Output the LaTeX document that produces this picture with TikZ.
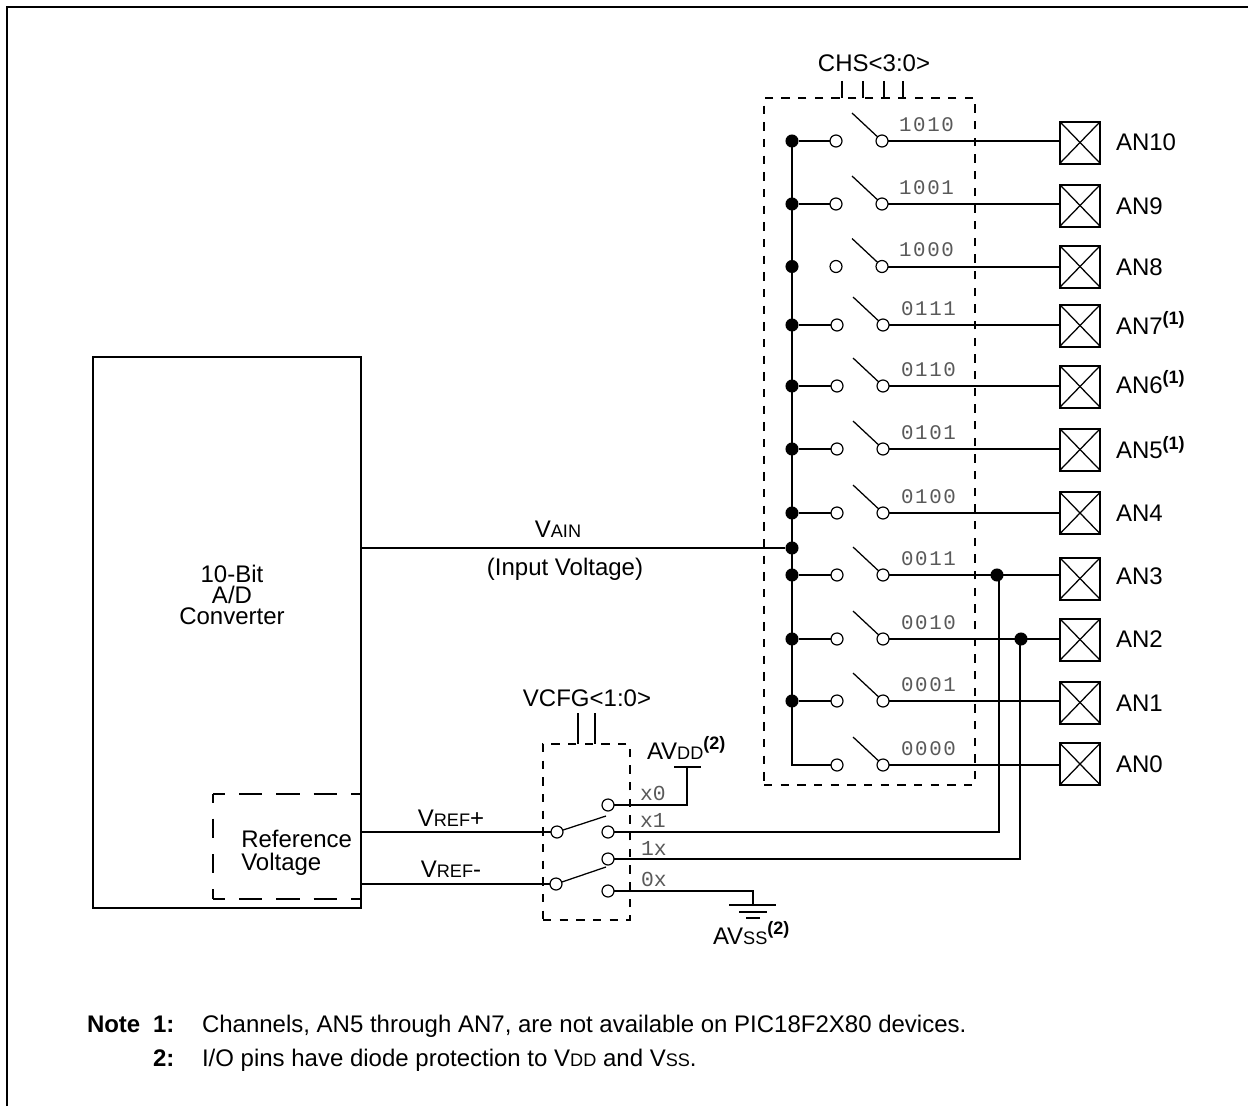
\documentclass[tikz,border=0pt]{standalone}
\usepackage{fontspec}
\setmainfont{Liberation Sans}
\newfontfamily\codefont[LetterSpace=8]{Liberation Mono}
\newfontfamily\codefontb{Liberation Mono}
\newcommand{\px}[1]{\fontsize{#1}{#1}\selectfont}
\newcommand{\supn}[1]{\raisebox{6.8pt}{\px{13.5pt}\bfseries #1}}
\newcommand{\smc}[1]{{\px{13.6pt}#1}}
\tikzset{
  wire/.style={line width=1.5pt,line cap=butt,line join=miter},
  thinw/.style={line width=0.95pt},
  contact/.style={circle,draw=black,fill=white,line width=0.9pt,minimum size=9pt,inner sep=0pt,outer sep=0pt},
  jdot/.style={circle,fill=black,minimum size=9.8pt,inner sep=0pt,outer sep=0pt},
  sdash/.style={line width=1.5pt,dash pattern=on 6.2pt off 6.3pt},
  ldash/.style={line width=1.5pt,dash pattern=on 17.5pt off 10.5pt,dash phase=8.5pt},
  ldashv/.style={line width=1.5pt,dash pattern=on 14.5pt off 12pt,dash phase=8pt},
  pin/.style={draw=black,line width=1.5pt,minimum width=30.5pt,minimum height=31.5pt,inner sep=0pt,outer sep=0pt},
  txt/.style={inner sep=0pt,outer sep=0pt,anchor=base west,font=\px{18pt}},
  ctxt/.style={inner sep=0pt,outer sep=0pt,anchor=base,font=\px{18pt}},
  code/.style={inner sep=0pt,outer sep=0pt,anchor=base west,text=black!65,font=\codefont\px{15.6pt}},
  codeb/.style={inner sep=0pt,outer sep=0pt,anchor=base west,text=black!65,font=\codefontb\px{16pt}},
}
\begin{document}
\begin{tikzpicture}[x=0.75pt,y=-0.75pt]
\useasboundingbox (0,0) rectangle (1248,1106);
\draw[line width=1.5pt] (7,1106) -- (7,7) -- (1248,7);

% ADC
\node[draw=black,line width=1.5pt,minimum width=201pt,minimum height=413.25pt,inner sep=0pt,outer sep=0pt] (adc) at (227,632.5) {};
\node[inner sep=0pt,align=center,font=\fontsize{18pt}{15.75pt}\selectfont] (adct) at (232,595) {10-Bit\\A/D\\Converter};
\node[minimum width=111pt,minimum height=78.75pt,inner sep=0pt,outer sep=0pt] (rv) at (287,846.5) {};
\draw[ldash] (rv.north west) -- (rv.north east);
\draw[ldash] (rv.south west) -- (rv.south east);
\draw[ldashv] (rv.north west) -- (rv.south west);
\node[inner sep=0pt,align=left,font=\fontsize{18pt}{17pt}\selectfont,anchor=west] (rvt) at (241,853) {Reference\\Voltage};

% CHS dashed box
\node[draw=black,sdash,minimum width=158.25pt,minimum height=515.25pt,inner sep=0pt,outer sep=0pt] (chs) at (869.5,441.5) {};
\node[ctxt] (chst) at (874,72) {CHS<3:0>};
\foreach \x [count=\k] in {842,863,884,903} {
  \coordinate (chsa\k) at (\x,81);
  \draw[wire] (chsa\k) -- (chsa\k |- chs.north);
}

% channel rows
\foreach \n/\y/\by/\ly/\cod/\lab/\cx in {
  10/141/142.5/142/1010/{AN10}/0,
  9/204/205.5/206/1001/{AN9}/0,
  8/266.5/266.5/267/1000/{AN8}/0,
  7/325/325.5/325.5/0111/{AN7\supn{(1)}}/1,
  6/386/386.5/384.5/0110/{AN6\supn{(1)}}/1,
  5/449/449.5/450/0101/{AN5\supn{(1)}}/1,
  4/513/513/513/0100/{AN4}/1,
  3/575/578.5/575.5/0011/{AN3}/1,
  2/639/639.5/639/0010/{AN2}/1,
  1/701/702.5/703/0001/{AN1}/1,
  0/765/764/764/0000/{AN0}/1} {
  \node[contact] (l\n) at (836+\cx,\y) {};
  \node[contact] (r\n) at (882+\cx,\y) {};
  \node[pin] (p\n) at (1080,\by) {};
  \draw[thinw] (p\n.north west) -- (p\n.south east);
  \draw[thinw] (p\n.south west) -- (p\n.north east);
  \draw[wire] (r\n) -- (r\n -| p\n.west);
  \coordinate (a\n) at (852+\cx,\y-28);
  \draw[thinw] (a\n) -- (r\n);
  \node[code] (c\n) at (899+2*\cx,\y-10) {\cod};
  \node[txt] (n\n) at (1116,\ly+8.5) {\lab};
}
% bus
\foreach \n in {10,9,7,6,5,4,3,2,1} {
  \node[jdot] (j\n) at (792,0 |- l\n) {};
  \draw[wire] (j\n) -- (l\n);
}
\node[jdot] (j8) at (792,0 |- l8) {};
\coordinate (jc) at (792,0 |- l0);
\draw[wire] (j10.center) -- (jc) -- (l0);

% VAIN
\node[jdot] (jv) at (792,548) {};
\draw[wire] (adc.east |- jv) -- (jv);
\node[ctxt] (vain) at (558,537) {V\smc{AIN}};
\node[ctxt] (inp) at (565,575) {(Input Voltage)};

% VCFG box
\node[draw=black,sdash,minimum width=65.25pt,minimum height=132pt,inner sep=0pt,outer sep=0pt] (vc) at (586.5,832) {};
\node[ctxt] (vct) at (587,706) {VCFG<1:0>};
\foreach \x [count=\k] in {578,595} {
  \coordinate (vca\k) at (\x,713);
  \draw[wire] (vca\k) -- (vca\k |- vc.north);
}
\node[contact] (lp) at (557,832) {};
\node[contact] (lm) at (556,884) {};
\node[contact] (rx0) at (608,805) {};
\node[contact] (rx1) at (608,832) {};
\node[contact] (r1x) at (608,859) {};
\node[contact] (r0x) at (608,891) {};
\coordinate (ap) at (606,816);
\coordinate (am) at (606,867);
\draw[thinw] (lp) -- (ap);
\draw[thinw] (lm) -- (am);
\draw[wire] (adc.east |- lp) -- (lp);
\draw[wire] (adc.east |- lm) -- (lm);
\node[ctxt] (vp) at (451,826) {V\smc{REF}+};
\node[ctxt] (vm) at (451,877) {V\smc{REF}-};
\node[codeb] (cx0) at (640,800) {x0};
\node[codeb] (cx1) at (640,827) {x1};
\node[codeb] (c1x) at (641,855) {1x};
\node[codeb] (c0x) at (641,886) {0x};

% AVDD
\coordinate (vdd) at (687,767);
\draw[wire] (rx0) -- (vdd |- rx0) -- (vdd);
\draw[wire] (674,767) -- (701,767);
\node[txt] (avdd) at (647,759) {AV\smc{DD}\supn{(2)}};

% cross connections
\node[jdot] (j3x) at (997,0 |- r3) {};
\node[jdot] (j2x) at (1021,0 |- r2) {};
\draw[wire] (rx1) -- (999,0 |- rx1) -- (999,0 |- j3x);
\draw[wire] (r1x) -- (1020,0 |- r1x) -- (1020,0 |- j2x);

% AVSS
\coordinate (gnd) at (753,905);
\draw[wire] (r0x) -- (gnd |- r0x) -- (gnd);
\draw[wire] (729,905) -- (776,905);
\draw[wire] (739,912) -- (767,912);
\draw[wire] (746,918) -- (760,918);
\node[txt] (avss) at (713,944) {AV\smc{SS}\supn{(2)}};

% notes
\node[txt,font=\px{18pt}\bfseries] (nn) at (87,1032) {Note};
\node[txt,font=\px{18pt}\bfseries] (nk) at (153,1032) {1:};
\node[txt] (n1) at (202,1032) {Channels, AN5 through AN7, are not available on PIC18F2X80 devices.};
\node[txt,font=\px{18pt}\bfseries] (nm) at (153,1066) {2:};
\node[txt] (n2) at (202,1066) {I/O pins have diode protection to V\smc{DD} and V\smc{SS}.};
\end{tikzpicture}
\end{document}
